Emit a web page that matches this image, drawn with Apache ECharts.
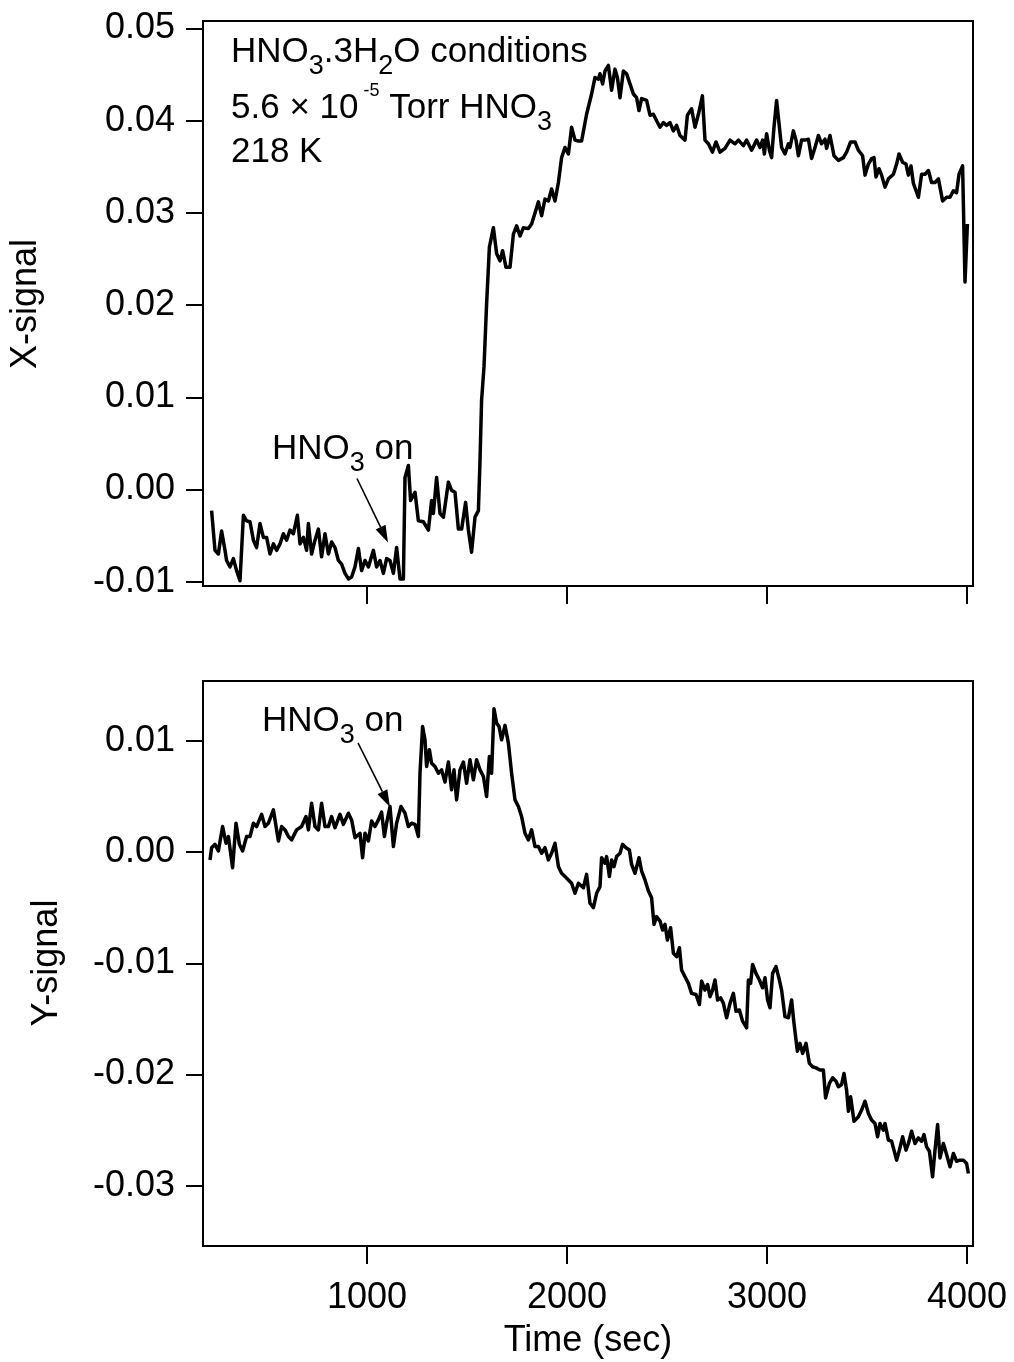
<!DOCTYPE html>
<html>
<head>
<meta charset="utf-8">
<script src="https://cdn.jsdelivr.net/npm/echarts@6/dist/echarts.min.js"></script>
<style>
html,body{margin:0;padding:0;background:#fff;}
#chart{width:1014px;height:1362px;}
</style>
</head>
<body>
<div id="chart"></div>
<script>
// ---------- data (time in sec, signal) ----------
var timeTop = [223,240,257,273,290,298,315,332,348,365,382,398,415,432,448,465,482,498,515,532,548,565,582,598,615,632,652,665,682,698,707,723,740,757,773,790,807,823,840,857,873,890,907,923,940,957,973,990,1007,1032,1048,1065,1082,1098,1115,1132,1148,1165,1182,1190,1207,1218,1240,1257,1282,1307,1323,1332,1348,1365,1382,1407,1423,1440,1457,1473,1493,1507,1523,1540,1557,1565,1573,1585,1598,1612,1632,1648,1665,1678,1695,1715,1732,1748,1765,1782,1807,1823,1840,1857,1873,1890,1907,1923,1940,1957,1973,1990,2007,2023,2040,2057,2073,2098,2123,2140,2157,2165,2178,2190,2207,2223,2240,2252,2265,2282,2298,2315,2332,2348,2360,2373,2398,2415,2432,2448,2465,2482,2498,2515,2532,2548,2565,2590,2602,2623,2640,2657,2677,2690,2707,2727,2745,2765,2790,2815,2840,2857,2882,2898,2923,2948,2965,2978,2987,2998,3012,3023,3035,3048,3062,3073,3090,3107,3115,3132,3145,3157,3173,3190,3207,3223,3240,3257,3273,3290,3298,3315,3335,3357,3382,3398,3418,3440,3457,3478,3490,3507,3523,3535,3545,3560,3573,3590,3607,3632,3648,3660,3678,3695,3707,3720,3732,3757,3773,3790,3807,3823,3840,3857,3878,3898,3915,3932,3948,3960,3978,3990,4002];
var xSignal = [-0.0023,-0.0066,-0.0070,-0.0045,-0.0066,-0.0077,-0.0084,-0.0075,-0.0088,-0.0099,-0.0028,-0.0034,-0.0035,-0.0055,-0.0063,-0.0037,-0.0052,-0.0052,-0.0070,-0.0059,-0.0066,-0.0059,-0.0048,-0.0055,-0.0044,-0.0048,-0.0028,-0.0059,-0.0052,-0.0066,-0.0037,-0.0070,-0.0055,-0.0043,-0.0073,-0.0048,-0.0070,-0.0057,-0.0063,-0.0077,-0.0081,-0.0091,-0.0097,-0.0095,-0.0084,-0.0064,-0.0088,-0.0077,-0.0084,-0.0066,-0.0084,-0.0077,-0.0091,-0.0075,-0.0077,-0.0091,-0.0063,-0.0097,-0.0097,0.0013,0.0026,-0.0012,-0.0003,-0.0034,-0.0035,-0.0044,-0.0012,-0.0026,0.0013,-0.0026,-0.0030,0.0008,-0.0001,-0.0003,-0.0043,-0.0043,-0.0014,-0.0044,-0.0068,-0.0030,-0.0023,0.0031,0.0097,0.0133,0.0201,0.0263,0.0284,0.0256,0.0248,0.0259,0.0241,0.0241,0.0277,0.0286,0.0275,0.0284,0.0283,0.0288,0.0300,0.0312,0.0297,0.0315,0.0313,0.0326,0.0313,0.0333,0.0360,0.0371,0.0364,0.0393,0.0379,0.0378,0.0378,0.0407,0.0429,0.0447,0.0445,0.0451,0.0440,0.0454,0.0460,0.0433,0.0456,0.0447,0.0425,0.0454,0.0451,0.0440,0.0429,0.0425,0.0411,0.0424,0.0422,0.0406,0.0407,0.0400,0.0393,0.0398,0.0395,0.0398,0.0389,0.0395,0.0384,0.0379,0.0406,0.0413,0.0393,0.0407,0.0427,0.0379,0.0375,0.0366,0.0377,0.0366,0.0370,0.0379,0.0375,0.0379,0.0373,0.0379,0.0368,0.0379,0.0371,0.0379,0.0364,0.0386,0.0368,0.0360,0.0393,0.0422,0.0393,0.0371,0.0364,0.0375,0.0371,0.0389,0.0379,0.0362,0.0379,0.0379,0.0380,0.0359,0.0371,0.0384,0.0375,0.0380,0.0370,0.0384,0.0362,0.0357,0.0360,0.0366,0.0377,0.0377,0.0368,0.0362,0.0341,0.0353,0.0359,0.0360,0.0339,0.0348,0.0341,0.0328,0.0337,0.0342,0.0353,0.0364,0.0355,0.0353,0.0341,0.0351,0.0332,0.0317,0.0342,0.0342,0.0346,0.0333,0.0333,0.0337,0.0313,0.0317,0.0317,0.0324,0.0322,0.0342,0.0351,0.0225,0.0288];

var timeBot = [215,223,240,257,278,295,307,328,345,362,378,398,415,432,448,473,490,507,532,557,573,590,607,623,648,673,695,707,723,740,757,773,790,807,823,840,865,882,907,923,940,965,978,990,1007,1023,1040,1057,1073,1087,1098,1115,1132,1148,1170,1190,1207,1223,1240,1257,1265,1278,1290,1298,1312,1323,1340,1357,1373,1390,1407,1423,1435,1448,1465,1482,1498,1515,1532,1548,1565,1582,1598,1612,1623,1635,1648,1660,1673,1690,1707,1723,1740,1757,1773,1790,1807,1823,1840,1857,1873,1890,1907,1923,1940,1957,1973,1990,2007,2023,2040,2057,2082,2098,2115,2132,2148,2165,2173,2190,2198,2212,2223,2235,2248,2265,2278,2295,2312,2323,2340,2360,2373,2390,2407,2423,2435,2448,2465,2478,2490,2502,2518,2532,2548,2562,2573,2590,2607,2623,2645,2662,2673,2690,2703,2715,2728,2740,2753,2768,2782,2798,2815,2832,2845,2862,2878,2898,2907,2918,2928,2945,2962,2978,2990,3003,3015,3028,3045,3062,3073,3090,3107,3123,3135,3152,3165,3178,3195,3212,3228,3245,3265,3282,3293,3312,3328,3345,3357,3373,3385,3398,3407,3418,3435,3457,3473,3490,3507,3523,3540,3553,3565,3582,3590,3607,3623,3635,3648,3662,3678,3695,3707,3723,3740,3757,3773,3785,3798,3812,3828,3840,3853,3865,3882,3898,3915,3932,3948,3965,3982,3998,4007];
var ySignal = [-0.0007,0.0004,0.0007,0.0001,0.0023,0.0008,0.0014,-0.0014,0.0026,0.0007,0.0001,0.0014,0.0014,0.0026,0.0023,0.0034,0.0023,0.0026,0.0038,0.0010,0.0023,0.0020,0.0014,0.0011,0.0020,0.0023,0.0032,0.0020,0.0044,0.0023,0.0020,0.0044,0.0023,0.0023,0.0032,0.0022,0.0034,0.0025,0.0035,0.0029,0.0013,0.0017,-0.0005,0.0017,0.0010,0.0028,0.0023,0.0029,0.0036,0.0014,0.0026,0.0041,0.0005,0.0026,0.0041,0.0035,0.0023,0.0026,0.0025,0.0014,0.0071,0.0113,0.0101,0.0077,0.0092,0.0080,0.0077,0.0071,0.0074,0.0063,0.0081,0.0056,0.0074,0.0047,0.0074,0.0081,0.0062,0.0083,0.0065,0.0083,0.0074,0.0068,0.0050,0.0086,0.0071,0.0129,0.0116,0.0113,0.0101,0.0114,0.0098,0.0071,0.0047,0.0041,0.0032,0.0017,0.0011,0.0020,0.0005,0.0005,-0.0001,0.0004,-0.0007,-0.0001,0.0008,-0.0013,-0.0019,-0.0022,-0.0025,-0.0028,-0.0037,-0.0028,-0.0032,-0.0020,-0.0046,-0.0050,-0.0037,-0.0031,-0.0005,-0.0010,-0.0004,-0.0022,-0.0007,-0.0013,-0.0004,-0.0001,0.0007,0.0004,0.0002,-0.0011,-0.0019,-0.0005,-0.0017,-0.0025,-0.0035,-0.0041,-0.0065,-0.0058,-0.0062,-0.0070,-0.0065,-0.0079,-0.0068,-0.0091,-0.0094,-0.0086,-0.0106,-0.0112,-0.0118,-0.0127,-0.0128,-0.0137,-0.0116,-0.0124,-0.0119,-0.0130,-0.0124,-0.0115,-0.0133,-0.0131,-0.0136,-0.0149,-0.0136,-0.0127,-0.0143,-0.0142,-0.0152,-0.0158,-0.0115,-0.0118,-0.0101,-0.0109,-0.0115,-0.0122,-0.0113,-0.0133,-0.0140,-0.0109,-0.0103,-0.0115,-0.0124,-0.0148,-0.0149,-0.0133,-0.0154,-0.0179,-0.0172,-0.0181,-0.0172,-0.0190,-0.0193,-0.0194,-0.0196,-0.0196,-0.0221,-0.0208,-0.0203,-0.0206,-0.0211,-0.0209,-0.0199,-0.0214,-0.0233,-0.0220,-0.0242,-0.0238,-0.0232,-0.0224,-0.0235,-0.0241,-0.0244,-0.0256,-0.0244,-0.0250,-0.0244,-0.0259,-0.0260,-0.0268,-0.0277,-0.0268,-0.0256,-0.0268,-0.0262,-0.0251,-0.0262,-0.0257,-0.0260,-0.0254,-0.0265,-0.0269,-0.0292,-0.0268,-0.0245,-0.0275,-0.0262,-0.0272,-0.0283,-0.0271,-0.0278,-0.0277,-0.0277,-0.0280,-0.0289];

var timeTicks = [1000, 2000, 3000, 4000];
var xSignalTicks = [-0.01, 0.00, 0.01, 0.02, 0.03, 0.04, 0.05];
var ySignalTicks = [-0.03, -0.02, -0.01, 0.00, 0.01];

// ---------- chart ----------
var FONT = 'Liberation Sans, Arial, sans-serif';
var chart = echarts.init(document.getElementById('chart'), null, {renderer: 'canvas'});

function pairs(xs, ys) { return xs.map(function (x, i) { return [x, ys[i]]; }); }

function xAxisCfg(gi, showLabels) {
  return {
    type: 'value', gridIndex: gi, min: 180, max: 4030,
    axisLine: {show: true, onZero: false, lineStyle: {color: '#000', width: 2}},
    axisTick: {show: true, inside: false, length: 18, customValues: timeTicks, lineStyle: {color: '#000', width: 2}},
    axisLabel: {show: showLabels, customValues: timeTicks, margin: 34, color: '#000', fontFamily: FONT, fontSize: 36,
      formatter: function (v) { return String(Math.round(v)); }},
    splitLine: {show: false}
  };
}
function yAxisCfg(gi, min, max, ticks) {
  return {
    type: 'value', gridIndex: gi, min: min, max: max,
    axisLine: {show: true, onZero: false, lineStyle: {color: '#000', width: 2}},
    axisTick: {show: true, inside: false, length: 17, customValues: ticks, lineStyle: {color: '#000', width: 2}},
    axisLabel: {show: true, customValues: ticks, margin: 28, color: '#000', fontFamily: FONT, fontSize: 36,
      formatter: function (v) { return v.toFixed(2); }},
    splitLine: {show: false}
  };
}

chart.setOption({
  animation: false,
  backgroundColor: '#fff',
  grid: [
    {left: 203, top: 21, width: 770, height: 565, show: true, borderColor: '#000', borderWidth: 2, backgroundColor: 'transparent'},
    {left: 203, top: 681, width: 770, height: 565, show: true, borderColor: '#000', borderWidth: 2, backgroundColor: 'transparent'}
  ],
  xAxis: [xAxisCfg(0, false), xAxisCfg(1, true)],
  yAxis: [yAxisCfg(0, -0.01047, 0.05082, xSignalTicks), yAxisCfg(1, -0.03542, 0.01539, ySignalTicks)],
  series: [
    {type: 'line', xAxisIndex: 0, yAxisIndex: 0, data: pairs(timeTop, xSignal), showSymbol: false,
      lineStyle: {color: '#000', width: 3.5, join: 'round'}},
    {type: 'line', xAxisIndex: 1, yAxisIndex: 1, data: pairs(timeBot, ySignal), showSymbol: false,
      lineStyle: {color: '#000', width: 3.5, join: 'round'}}
  ]
});

// ---------- annotations ----------
var rich = {
  n: {fontFamily: FONT, fontSize: 35, color: '#000'},
  s: {fontFamily: FONT, fontSize: 27, color: '#000', padding: [30, 0, 0, 0]},
  p: {fontFamily: FONT, fontSize: 18, color: '#000', padding: [0, 0, 33, 0]}
};
function richText(x, y, str) {
  return {type: 'text', x: x, y: y, silent: true,
    style: {text: str, rich: rich, fontFamily: FONT, fontSize: 35, fill: '#000', align: 'left', verticalAlign: 'middle'}};
}
function arrow(gi, tail, tip) {
  var a = chart.convertToPixel({gridIndex: gi}, tail);
  var b = chart.convertToPixel({gridIndex: gi}, tip);
  var dx = b[0] - a[0], dy = b[1] - a[1], L = Math.sqrt(dx * dx + dy * dy);
  var ux = dx / L, uy = dy / L, hl = 17, hw = 5.5;
  var bx = b[0] - ux * hl, by = b[1] - uy * hl;
  return [
    {type: 'line', silent: true, shape: {x1: a[0], y1: a[1], x2: bx, y2: by}, style: {stroke: '#000', lineWidth: 1.6}},
    {type: 'polygon', silent: true, shape: {points: [[b[0], b[1]], [bx - uy * hw, by + ux * hw], [bx + uy * hw, by - ux * hw]]}, style: {fill: '#000'}}
  ];
}

var g = [];
g.push(richText(231, 52, '{n|HNO}{s|3}{n|.3H}{s|2}{n|O conditions}'));
g.push(richText(231, 108, '{n|5.6 × 10}{p| -5}{n| Torr HNO}{s|3}'));
g.push(richText(231, 152, '{n|218 K}'));
g.push(richText(272, 449, '{n|HNO}{s|3}{n| on}'));
g.push(richText(262, 721, '{n|HNO}{s|3}{n| on}'));
g = g.concat(arrow(0, [950, 0.00119], [1105, -0.00575]));
g = g.concat(arrow(1, [955, 0.00982], [1115, 0.00407]));
// axis titles
g.push({type: 'text', x: 26, y: 304, rotation: Math.PI / 2, silent: true,
  style: {text: 'X-signal', fontFamily: FONT, fontSize: 36, fill: '#000', align: 'center', verticalAlign: 'middle'}});
g.push({type: 'text', x: 47, y: 963, rotation: Math.PI / 2, silent: true,
  style: {text: 'Y-signal', fontFamily: FONT, fontSize: 36, fill: '#000', align: 'center', verticalAlign: 'middle'}});
g.push({type: 'text', x: 588, y: 1341, silent: true,
  style: {text: 'Time (sec)', fontFamily: FONT, fontSize: 36, fill: '#000', align: 'center', verticalAlign: 'middle'}});

chart.setOption({graphic: {elements: g}});
</script>
</body>
</html>
